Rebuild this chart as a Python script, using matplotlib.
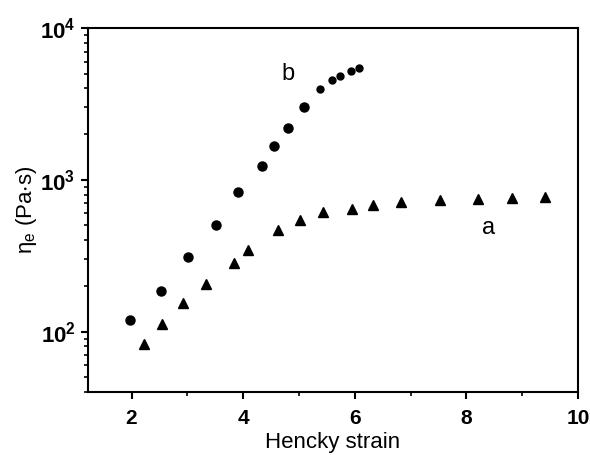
import matplotlib
matplotlib.use("Agg")
from matplotlib import pyplot as plt
from matplotlib.ticker import LogLocator, NullFormatter, MultipleLocator, FuncFormatter
import numpy as np

plt.rcParams['font.family'] = ['Liberation Sans', 'DejaVu Sans']
plt.rcParams['mathtext.fontset'] = 'custom'
plt.rcParams['mathtext.rm'] = 'Liberation Sans'
plt.rcParams['mathtext.bf'] = 'Liberation Sans:bold'
plt.rcParams['mathtext.it'] = 'Liberation Sans:italic'

# curve b (circles)
strain_b = [1.97, 2.52, 3.02, 3.51, 3.91, 4.33, 4.55, 4.80, 5.09, 5.38, 5.59, 5.74, 5.93, 6.08]
visc_b = [120, 186, 312, 500, 826, 1228, 1664, 2188, 3013, 3950, 4540, 4820, 5200, 5450]

# curve a (triangles)
strain_a = [2.23, 2.54, 2.93, 3.33, 3.83, 4.08, 4.62, 5.02, 5.43, 5.95, 6.33, 6.83, 7.53, 8.21, 8.82, 9.41]
visc_a = [83, 113, 155, 207, 285, 346, 464, 540, 610, 638, 679, 710, 732, 743, 755, 767]

fig = plt.figure(figsize=(5.9, 4.55), dpi=100)
ax = fig.add_axes([88 / 590, 1 - 392 / 455, (578 - 88) / 590, (392 - 28) / 455])

ax.plot(strain_b[:9], visc_b[:9], 'o', color='black', markersize=6.5)
ax.plot(strain_b[9:], visc_b[9:], 'o', color='black', markersize=5)
ax.plot(strain_a, visc_a, '^', color='black', markersize=7.5)

ax.set_yscale('log')
ax.set_xlim(1.22, 10)
ax.set_ylim(40, 1e4)
ax.xaxis.set_major_locator(MultipleLocator(2))
ax.xaxis.set_minor_locator(MultipleLocator(1))
ax.yaxis.set_minor_locator(LogLocator(base=10, subs=range(2, 10)))
ax.yaxis.set_minor_formatter(NullFormatter())
ax.yaxis.set_major_formatter(FuncFormatter(lambda v, p: r'$\mathbf{10^{%d}}$' % round(np.log10(v))))

for s in ax.spines.values():
    s.set_linewidth(1.5)
ax.tick_params(which='major', direction='out', length=5, width=1.5, labelsize=15, top=False, right=False)
ax.tick_params(axis='x', which='major', pad=7)
ax.tick_params(axis='y', which='major', pad=4, labelsize=16)
ax.tick_params(which='minor', direction='out', length=3, width=1.2, top=False, right=False)
for lab in ax.get_xticklabels():
    lab.set_fontweight('bold')

ax.set_xlabel('Hencky strain', fontsize=16, labelpad=3)
ax.set_ylabel(r'$\mathregular{\eta_e}$ (Pa$\mathregular{\cdot}$s)', fontsize=16, labelpad=1)

ax.text(4.80, 5000, 'b', fontsize=17, ha='center', va='center')
ax.text(8.39, 480, 'a', fontsize=17, ha='center', va='center')

fig.savefig('out.png', dpi=100)
